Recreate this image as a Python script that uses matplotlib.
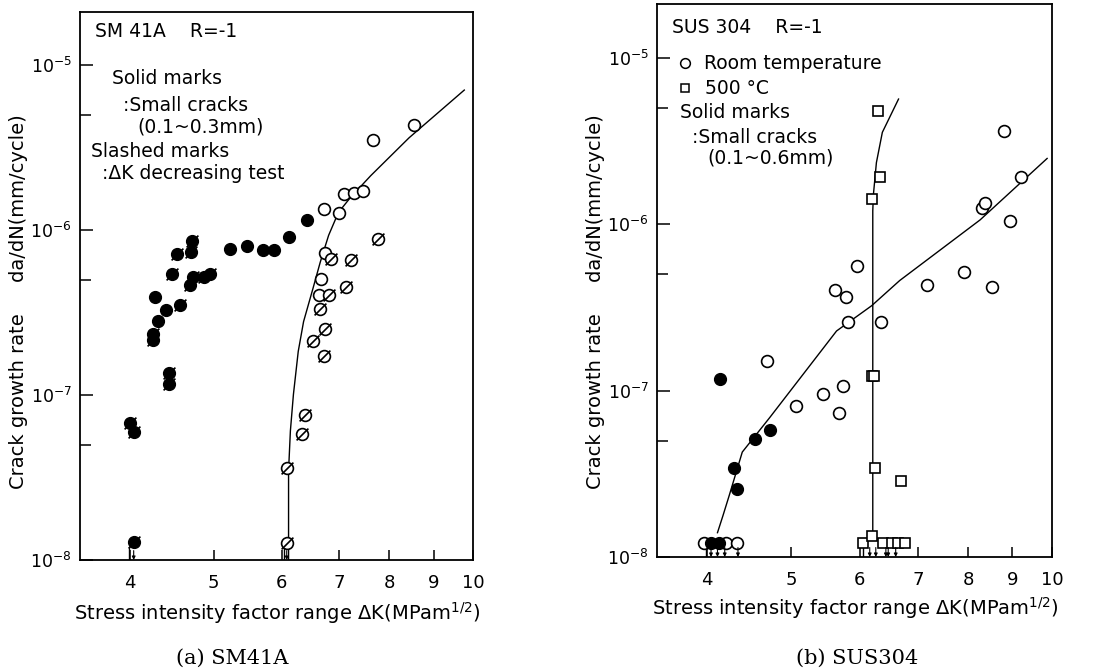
import matplotlib.pyplot as plt
from matplotlib.ticker import FixedLocator, NullFormatter, NullLocator

# ---- (a) SM41A ----
sm_open_x = [8.54, 7.66, 7.08, 7.27, 7.45, 6.71, 7.00, 6.74, 6.67, 6.62]
sm_open_y = [4.36e-6, 3.53e-6, 1.65e-6, 1.69e-6, 1.72e-6, 1.34e-6, 1.27e-6, 7.3e-7, 5.07e-7, 4.06e-7]

sm_slash_x = [7.76, 6.84, 7.21, 7.12, 6.80, 6.65, 6.74, 6.53, 6.71, 6.38, 6.34, 6.09, 6.09]
sm_slash_y = [8.8e-7, 6.69e-7, 6.6e-7, 4.54e-7, 4.06e-7, 3.34e-7, 2.5e-7, 2.14e-7, 1.72e-7,
              7.58e-8, 5.82e-8, 3.63e-8, 1.27e-8]

sm_solid_x = [6.41, 6.12, 5.87, 5.70, 5.47, 5.23, 4.28, 4.40, 4.31]
sm_solid_y = [1.16e-6, 9.1e-7, 7.58e-7, 7.6e-7, 8.0e-7, 7.69e-7, 3.95e-7, 3.3e-7, 2.83e-7]

sm_solid_slash_x = [4.72, 4.71, 4.54, 4.48, 4.96, 4.87, 4.73, 4.70, 4.57, 4.25, 4.25,
                    4.44, 4.44, 4.00, 4.04, 4.04]
sm_solid_slash_y = [8.6e-7, 7.37e-7, 7.16e-7, 5.43e-7, 5.43e-7, 5.21e-7, 5.2e-7, 4.66e-7,
                    3.53e-7, 2.36e-7, 2.17e-7, 1.36e-7, 1.16e-7, 6.78e-8, 5.98e-8, 1.28e-8]

sm_curve_x = [6.11, 6.11, 6.14, 6.19, 6.27, 6.36, 6.52, 6.65, 6.80, 6.98, 7.21, 7.61, 8.43, 9.77]
sm_curve_y = [1e-8, 3.48e-8, 6.07e-8, 1.01e-7, 1.84e-7, 2.79e-7, 4.41e-7, 6.4e-7, 9.3e-7,
              1.28e-6, 1.58e-6, 2.14e-6, 3.63e-6, 7.07e-6]

sm_arrow_x = [4.04, 6.08]
sm_bar_x = [3.99, 6.03]

# ---- (b) SUS304 ----
sus_open_x = [8.80, 9.21, 8.30, 8.36, 8.95, 5.95, 7.91, 7.17, 8.53, 5.61, 5.79, 5.81, 6.34,
              4.69, 5.07, 5.44, 5.73, 5.67, 3.97, 4.20, 4.33]
sus_open_y = [3.61e-6, 1.93e-6, 1.25e-6, 1.34e-6, 1.04e-6, 5.64e-7, 5.19e-7, 4.33e-7, 4.21e-7,
              4.04e-7, 3.66e-7, 2.58e-7, 2.58e-7, 1.5e-7, 8.1e-8, 9.6e-8, 1.06e-7, 7.36e-8,
              1.22e-8, 1.22e-8, 1.22e-8]

sus_solid_x = [4.14, 4.73, 4.54, 4.29, 4.33, 4.04, 4.13]
sus_solid_y = [1.17e-7, 5.8e-8, 5.12e-8, 3.41e-8, 2.55e-8, 1.22e-8, 1.22e-8]

sus_sq_x = [6.29, 6.33, 6.19, 6.19, 6.23, 6.24, 6.69, 6.05, 6.20, 6.38, 6.54, 6.64, 6.76]
sus_sq_y = [4.77e-6, 1.93e-6, 1.42e-6, 1.23e-7, 1.23e-7, 3.41e-8, 2.85e-8, 1.22e-8, 1.34e-8,
            1.22e-8, 1.22e-8, 1.22e-8, 1.22e-8]

rt_curve_x = [4.11, 4.17, 4.24, 4.39, 4.72, 5.64, 6.19, 6.67, 8.26, 9.87]
rt_curve_y = [1.40e-8, 1.77e-8, 2.34e-8, 4.27e-8, 6.86e-8, 2.28e-7, 3.23e-7, 4.58e-7, 1.06e-6, 2.48e-6]

hot_curve_x = [6.21, 6.21, 6.22, 6.27, 6.37, 6.65]
hot_curve_y = [1.34e-8, 1.2e-6, 1.5e-6, 2.34e-6, 3.56e-6, 5.64e-6]

sus_arrow_x = [4.04, 4.11, 4.19, 4.34, 6.16, 6.26, 6.43, 6.47, 6.60]
sus_bar_x = [3.99, 6.05]

x_ticks = [4, 5, 6, 7, 8, 9, 10]
y_major = [1e-8, 1e-7, 1e-6, 1e-5]
y_minor = [5e-8, 5e-7, 5e-6]

SLASH = [(-1, -1), (1, 1)]
FS = 13.5
LAB_FS = 14

plt.rcParams["font.family"] = ["DejaVu Sans"]
fig = plt.figure(figsize=(11, 6.71), dpi=100)
ax_a = fig.add_axes([0.0727, 0.1654, 0.3573, 0.8166])
ax_b = fig.add_axes([0.5973, 0.1699, 0.3591, 0.8241])


def setup(ax):
    ax.set_xscale("log")
    ax.set_yscale("log")
    ax.set_xlim(3.5, 10)
    ax.set_ylim(1e-8, 2.1e-5)
    ax.xaxis.set_major_locator(FixedLocator(x_ticks))
    ax.set_xticklabels([str(t) for t in x_ticks])
    ax.xaxis.set_minor_locator(NullLocator())
    ax.yaxis.set_major_locator(FixedLocator(y_major))
    ax.set_yticklabels([r"$\mathregular{10^{%d}}$" % e for e in (-8, -7, -6, -5)])
    ax.yaxis.set_minor_locator(FixedLocator(y_minor))
    ax.yaxis.set_minor_formatter(NullFormatter())
    ax.tick_params(axis="both", which="both", direction="in", width=1.1,
                   top=False, right=False)
    ax.tick_params(axis="x", which="major", length=7, pad=10, labelsize=13)
    ax.tick_params(axis="y", which="major", length=9, pad=6, labelsize=12.5)
    ax.tick_params(axis="y", which="minor", length=8)
    for sp in ax.spines.values():
        sp.set_linewidth(1.3)


def arrows(ax, xs, bars):
    for x in xs:
        ax.annotate("", xy=(x, 1.0e-8), xytext=(x, 1.14e-8),
                    arrowprops=dict(arrowstyle="-|>", lw=0.8, color="k",
                                    mutation_scale=5, shrinkA=0, shrinkB=0))
    ax.vlines(bars, 1e-8, 1.2e-8, color="k", lw=1.0)


open_kw = dict(ls="none", marker="o", ms=8.5, mfc="white", mec="k", mew=1.2, zorder=3)
solid_kw = dict(ls="none", marker="o", ms=8.5, mfc="k", mec="k", mew=1.0, zorder=3)
slash_kw = dict(ls="none", marker=SLASH, ms=8.5, mec="k", mew=1.2, zorder=4)

# (a)
ax = ax_a
setup(ax)
ax.plot(sm_curve_x, sm_curve_y, color="k", lw=1.0, zorder=2)
ax.plot(sm_open_x, sm_open_y, **open_kw)
ax.plot(sm_slash_x, sm_slash_y, **open_kw)
ax.plot(sm_slash_x, sm_slash_y, **slash_kw)
ax.plot(sm_solid_x, sm_solid_y, **solid_kw)
ax.plot(sm_solid_slash_x, sm_solid_slash_y, **solid_kw)
ax.plot(sm_solid_slash_x, sm_solid_slash_y, **slash_kw)
arrows(ax, sm_arrow_x, sm_bar_x)
ax.text(0.038, 0.964, "SM 41A    R=-1", transform=ax.transAxes, fontsize=FS, va="center")
ax.text(0.081, 0.878, "Solid marks", transform=ax.transAxes, fontsize=FS, va="center")
ax.text(0.109, 0.830, ":Small cracks", transform=ax.transAxes, fontsize=FS, va="center")
ax.text(0.145, 0.790, "(0.1~0.3mm)", transform=ax.transAxes, fontsize=FS, va="center")
ax.text(0.028, 0.745, "Slashed marks", transform=ax.transAxes, fontsize=FS, va="center")
ax.text(0.056, 0.706, ":ΔK decreasing test", transform=ax.transAxes, fontsize=FS, va="center")

# (b)
ax = ax_b
setup(ax)
ax.plot(rt_curve_x, rt_curve_y, color="k", lw=1.0, zorder=2)
ax.plot(hot_curve_x, hot_curve_y, color="k", lw=1.0, zorder=2)
ax.plot(sus_open_x, sus_open_y, **open_kw)
ax.plot(sus_solid_x, sus_solid_y, **solid_kw)
ax.plot(sus_sq_x, sus_sq_y, ls="none", marker="s", ms=6.5, mfc="white", mec="k", mew=1.2, zorder=3)
arrows(ax, sus_arrow_x, sus_bar_x)
ax.text(0.038, 0.958, "SUS 304    R=-1", transform=ax.transAxes, fontsize=FS, va="center")
ax.plot([0.072], [0.893], transform=ax.transAxes, ls="none", marker="o", ms=7,
        mfc="white", mec="k", mew=1.1, clip_on=False)
ax.text(0.119, 0.893, "Room temperature", transform=ax.transAxes, fontsize=FS, va="center")
ax.plot([0.072], [0.848], transform=ax.transAxes, ls="none", marker="s", ms=5.5,
        mfc="white", mec="k", mew=1.1, clip_on=False)
ax.text(0.122, 0.848, "500 °C", transform=ax.transAxes, fontsize=FS, va="center")
ax.text(0.058, 0.803, "Solid marks", transform=ax.transAxes, fontsize=FS, va="center")
ax.text(0.089, 0.759, ":Small cracks", transform=ax.transAxes, fontsize=FS, va="center")
ax.text(0.127, 0.722, "(0.1~0.6mm)", transform=ax.transAxes, fontsize=FS, va="center")

# axis labels and captions
ylab = "Crack growth rate     da/dN(mm/cycle)"
xlab = r"Stress intensity factor range ΔK(MPam$^{1/2}$)"
fig.text(0.0164, 0.55, ylab, rotation=90, ha="center", va="center", fontsize=LAB_FS)
fig.text(0.541, 0.551, ylab, rotation=90, ha="center", va="center", fontsize=LAB_FS)
fig.text(0.252, 0.0864, xlab, ha="center", va="center", fontsize=LAB_FS)
fig.text(0.778, 0.094, xlab, ha="center", va="center", fontsize=LAB_FS)
fig.text(0.211, 0.019, "(a) SM41A", ha="center", va="center", fontsize=15, family="DejaVu Serif")
fig.text(0.779, 0.019, "(b) SUS304", ha="center", va="center", fontsize=15, family="DejaVu Serif")

fig.savefig("out.png", dpi=100)
